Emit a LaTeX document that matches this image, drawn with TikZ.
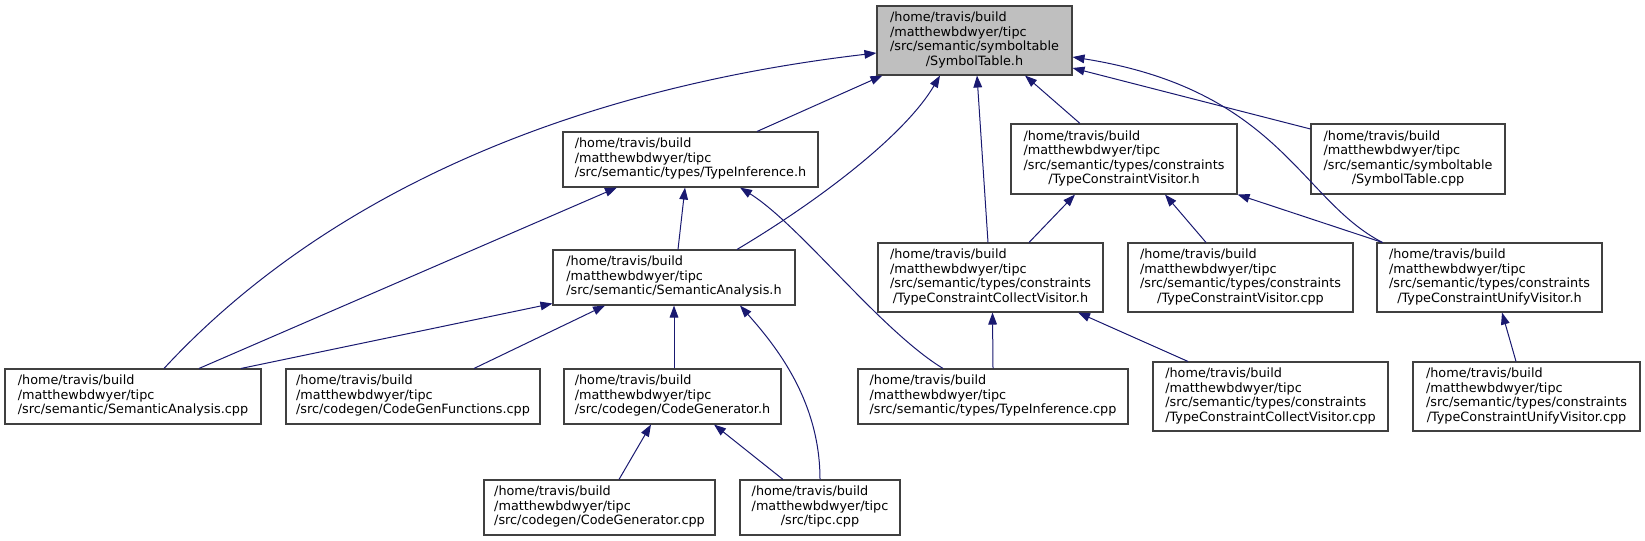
\documentclass[tikz,border=0pt]{standalone}
\usepackage{fontspec}
\usepackage{tikz}
\usetikzlibrary{arrows.meta,calc}
\newfontfamily\dvs{DejaVu Sans}
\definecolor{edgeblue}{HTML}{191970}
\definecolor{rootgray}{HTML}{BFBFBF}
\newcommand{\pathbox}[1]{\begin{tabular}{@{}l@{}}#1\end{tabular}}
\newcommand{\ctrline}[1]{\multicolumn{1}{@{}c@{}}{#1}}

\begin{document}
\begin{tikzpicture}[x=0.75pt, y=-0.75pt,
  file/.style={rectangle, draw=black!75, line width=0.8pt, fill=white, inner sep=0pt,
    font=\dvs\fontsize{9.6}{10.9}\selectfont},
  boxsize/.style 2 args={minimum width=#1*0.75pt, minimum height=#2*0.75pt},
  arr/.style={-{Triangle[length=9pt, width=6.5pt]}, line width=0.75pt, edgeblue}
]
  \useasboundingbox (0,0) rectangle (1645,541);

  \node[file, fill=rootgray, boxsize={195}{69}] (root) at (974.5,40.5)
    {\pathbox{/home/travis/build\\/matthewbdwyer/tipc\\/src/semantic/symboltable\\\ctrline{/SymbolTable.h}}};
  \node[file, boxsize={255}{55}] (tih) at (690.5,159.5)
    {\pathbox{/home/travis/build\\/matthewbdwyer/tipc\\\ctrline{/src/semantic/types/TypeInference.h}}};
  \node[file, boxsize={226}{70}] (tcvh) at (1124,159)
    {\pathbox{/home/travis/build\\/matthewbdwyer/tipc\\/src/semantic/types/constraints\\\ctrline{/TypeConstraintVisitor.h}}};
  \node[file, boxsize={194}{70}] (stcpp) at (1408,159)
    {\pathbox{/home/travis/build\\/matthewbdwyer/tipc\\/src/semantic/symboltable\\\ctrline{/SymbolTable.cpp}}};
  \node[file, boxsize={242}{55}] (sah) at (674,277.5)
    {\pathbox{/home/travis/build\\/matthewbdwyer/tipc\\\ctrline{/src/semantic/SemanticAnalysis.h}}};
  \node[file, boxsize={225}{69}] (tccvh) at (990.5,277.5)
    {\pathbox{/home/travis/build\\/matthewbdwyer/tipc\\/src/semantic/types/constraints\\\ctrline{/TypeConstraintCollectVisitor.h}}};
  \node[file, boxsize={225}{69}] (tcvcpp) at (1240.5,277.5)
    {\pathbox{/home/travis/build\\/matthewbdwyer/tipc\\/src/semantic/types/constraints\\\ctrline{/TypeConstraintVisitor.cpp}}};
  \node[file, boxsize={225}{69}] (tcuvh) at (1489.5,277.5)
    {\pathbox{/home/travis/build\\/matthewbdwyer/tipc\\/src/semantic/types/constraints\\\ctrline{/TypeConstraintUnifyVisitor.h}}};
  \node[file, boxsize={256}{55}] (sacpp) at (133,396.5)
    {\pathbox{/home/travis/build\\/matthewbdwyer/tipc\\\ctrline{/src/semantic/SemanticAnalysis.cpp}}};
  \node[file, boxsize={254}{55}] (cgfcpp) at (413,396.5)
    {\pathbox{/home/travis/build\\/matthewbdwyer/tipc\\\ctrline{/src/codegen/CodeGenFunctions.cpp}}};
  \node[file, boxsize={217}{55}] (cgh) at (672.5,396.5)
    {\pathbox{/home/travis/build\\/matthewbdwyer/tipc\\\ctrline{/src/codegen/CodeGenerator.h}}};
  \node[file, boxsize={270}{55}] (ticpp) at (993,396.5)
    {\pathbox{/home/travis/build\\/matthewbdwyer/tipc\\\ctrline{/src/semantic/types/TypeInference.cpp}}};
  \node[file, boxsize={235}{69}] (tccvcpp) at (1270.5,396.5)
    {\pathbox{/home/travis/build\\/matthewbdwyer/tipc\\/src/semantic/types/constraints\\\ctrline{/TypeConstraintCollectVisitor.cpp}}};
  \node[file, boxsize={227}{69}] (tcuvcpp) at (1526.5,396.5)
    {\pathbox{/home/travis/build\\/matthewbdwyer/tipc\\/src/semantic/types/constraints\\\ctrline{/TypeConstraintUnifyVisitor.cpp}}};
  \node[file, boxsize={231}{55}] (cgcpp) at (599.5,507.5)
    {\pathbox{/home/travis/build\\/matthewbdwyer/tipc\\\ctrline{/src/codegen/CodeGenerator.cpp}}};
  \node[file, boxsize={160}{55}] (tipc) at (820,507.5)
    {\pathbox{/home/travis/build\\/matthewbdwyer/tipc\\\ctrline{/src/tipc.cpp}}};

  % edges into SymbolTable.h
  \draw[arr] ($(sacpp.north)+(31,0)$) .. controls (320,200) and (560,90) .. ($(root.west)+(0,12.5)$);
  \draw[arr] ($(tih.north)+(66.5,0)$) -- ($(root.south west)+(6,0)$);
  \draw[arr] ($(sah.north)+(63,0)$) .. controls (820,200) and (905,135) .. ($(root.south)+(-34.5,0)$);
  \draw[arr] ($(tccvh.north)+(-2.5,0)$) -- ($(root.south)+(2.5,0)$);
  \draw[arr] ($(tcvh.north)+(-44,0)$) -- ($(root.south)+(50.5,0)$);
  \draw[arr] ($(stcpp.west)+(0,-30)$) -- ($(root.east)+(0,27.5)$);
  \draw[arr] ($(tcuvh.north west)+(6,0)$) .. controls (1300,200) and (1280,90) .. ($(root.east)+(0,16.5)$);

  % edges into TypeInference.h
  \draw[arr] ($(sacpp.north)+(66,0)$) -- ($(tih.south)+(-73.5,0)$);
  \draw[arr] ($(sah.north)+(4,0)$) -- ($(tih.south)+(-5.5,0)$);
  \draw[arr] ($(ticpp.north)+(-50,0)$) .. controls (880,330) and (800,225) .. ($(tih.south)+(49.5,0)$);

  % edges into TypeConstraintVisitor.h
  \draw[arr] ($(tccvh.north)+(38.5,0)$) -- ($(tcvh.south)+(-49,0)$);
  \draw[arr] ($(tcvcpp.north)+(-34.5,0)$) -- ($(tcvh.south)+(41,0)$);
  \draw[arr] ($(tcuvh.north west)+(6,0)$) -- (tcvh.south east);

  % edges into SemanticAnalysis.h
  \draw[arr] ($(sacpp.north)+(108,0)$) -- ($(sah.south west)+(0,-2)$);
  \draw[arr] ($(cgfcpp.north)+(61,0)$) -- ($(sah.south)+(-69,0)$);
  \draw[arr] (sah.south |- cgh.north) -- (sah.south);
  \draw[arr] (tipc.north) .. controls (820,400) and (775,345) .. ($(sah.south)+(66,0)$);

  % remaining edges
  \draw[arr] (ticpp.north) -- ($(tccvh.south)+(2,0)$);
  \draw[arr] ($(tccvcpp.north)+(-82.5,0)$) -- ($(tccvh.south)+(87.5,0)$);
  \draw[arr] ($(tcuvcpp.north)+(-10.5,0)$) -- ($(tcuvh.south)+(12.5,0)$);
  \draw[arr] ($(cgcpp.north)+(19.5,0)$) -- ($(cgh.south)+(-21.5,0)$);
  \draw[arr] ($(tipc.north)+(-37,0)$) -- ($(cgh.south)+(41.5,0)$);
\end{tikzpicture}
\end{document}
